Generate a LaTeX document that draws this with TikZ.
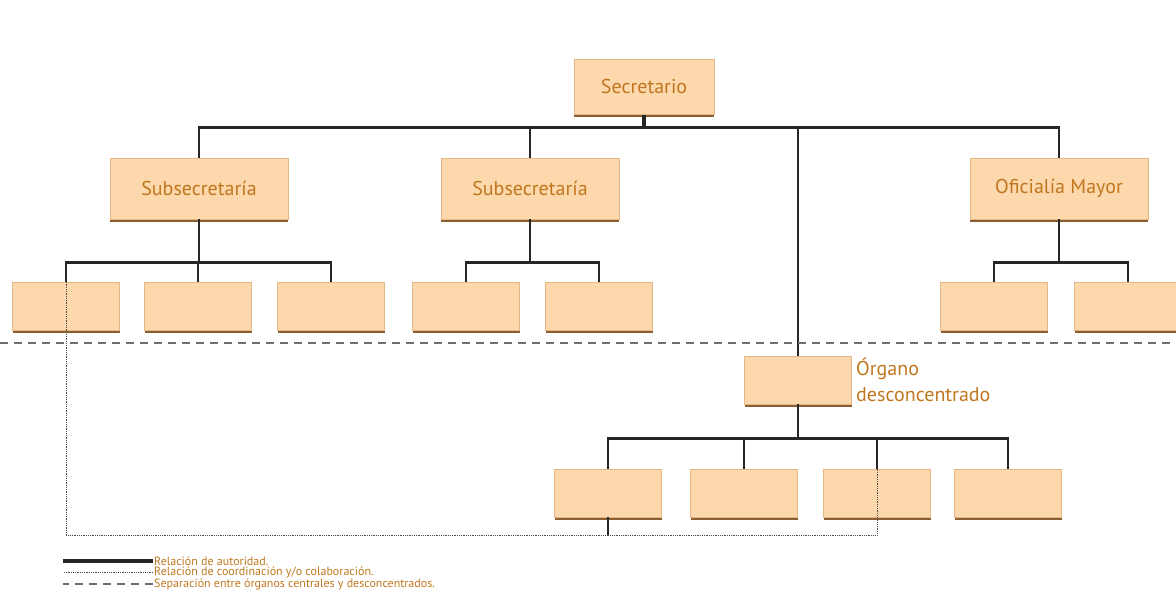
\documentclass[tikz,border=0pt]{standalone}
\usepackage{fontspec}
\setmainfont{PT Sans}
\usetikzlibrary{shadows}
\definecolor{boxfill}{RGB}{253,216,172}
\definecolor{boxedge}{RGB}{228,184,134}
\definecolor{boxshade}{RGB}{140,95,50}
\definecolor{txt}{RGB}{192,118,30}
\definecolor{sepgray}{RGB}{110,110,110}

\begin{document}
\begin{tikzpicture}[x=1pt, y=-1pt,
    cargo/.style = {draw=boxedge, fill=boxfill, line width=0.6pt, general shadow={fill=boxshade, shadow yshift=-3pt}, text=txt, font=\fontsize{20}{24}\selectfont, inner sep=0pt},
    jefe/.style = {cargo, minimum width=178pt, minimum height=61pt},
    unidad/.style = {cargo, minimum width=107pt, minimum height=48pt},
    autoridad/.style = {line width=2.6pt, black!85},
    coordinacion/.style = {line width=0.8pt, densely dotted, black!70},
    separacion/.style = {line width=1.6pt, sepgray, dash pattern=on 8pt off 6pt},
    leyenda/.style = {text=txt, font=\fontsize{12}{13}\selectfont, anchor=west, inner sep=1pt}]

    \useasboundingbox (0,0) rectangle (1176,591);

    % boxes
    \node[cargo, minimum width=140pt, minimum height=55pt] (sec) at (644,87) {Secretario};
    \node[jefe] (subA) at (199,188.5) {Subsecretaría};
    \node[jefe] (subB) at (530,188.5) {Subsecretaría};
    \node[jefe] (ofm) at (1059,188.5) {Oficialía Mayor};

    \node[unidad] (a1) at (66,306) {};
    \node[unidad] (a2) at (198,306) {};
    \node[unidad] (a3) at (331,306) {};
    \node[unidad] (b1) at (466,306) {};
    \node[unidad] (b2) at (599,306) {};
    \node[unidad] (c1) at (994,306) {};
    \node[unidad] (c2) at (1128,306) {};

    \node[unidad] (org) at (798,380) {};
    \node[text=txt, font=\fontsize{20}{26}\selectfont, align=left, anchor=west, inner sep=0pt] (orgtxt) at (856,380) {Órgano\\desconcentrado};

    \node[unidad] (d1) at (608,493) {};
    \node[unidad] (d2) at (744,493) {};
    \node[unidad] (d3) at (877,493) {};
    \node[unidad] (d4) at (1008,493) {};

    % relacion de autoridad
    \draw[autoridad, line width=3.2pt] (sec.south) -- ++(0,13) coordinate (r0);
    \foreach \n in {subA,subB,ofm,org} \draw[autoridad] (r0) -| (\n.north);

    \draw[autoridad] (subA.south) -- ++(0,43) coordinate (rA);
    \foreach \n in {a1,a2,a3} \draw[autoridad] (rA) -| (\n.north);
    \draw[autoridad] (subB.south) -- ++(0,43) coordinate (rB);
    \foreach \n in {b1,b2} \draw[autoridad] (rB) -| (\n.north);
    \draw[autoridad] (ofm.south) -- ++(0,43) coordinate (rC);
    \foreach \n in {c1,c2} \draw[autoridad] (rC) -| (\n.north);
    \draw[autoridad] (org.south) -- ++(0,34) coordinate (rD);
    \foreach \n in {d1,d2,d3,d4} \draw[autoridad] (rD) -| (\n.north);

    % separacion
    \coordinate (sepL) at (0,343);
    \coordinate (sepR) at (1176,343);
    \draw[separacion] (sepL) -- (sepR);

    % coordinacion
    \coordinate (cb) at (0,535);
    \draw[coordinacion] (a1.north) -- (a1.north |- cb) -| (d3.north);
    \draw[autoridad] (d1.south) -- (d1.south |- cb);

    % leyenda
    \node[leyenda] (l1) at (153,561) {Relación de autoridad.};
    \node[leyenda] (l2) at (153,572) {Relación de coordinación y/o colaboración.};
    \node[leyenda] (l3) at (153,584) {Separación entre órganos centrales y desconcentrados.};
    \draw[autoridad, line width=4pt] (l1.west) -- ++(-90,0);
    \draw[coordinacion] (l2.west) -- ++(-90,0);
    \draw[separacion, line width=1.3pt] (l3.west) -- ++(-90,0);

\end{tikzpicture}
\end{document}
